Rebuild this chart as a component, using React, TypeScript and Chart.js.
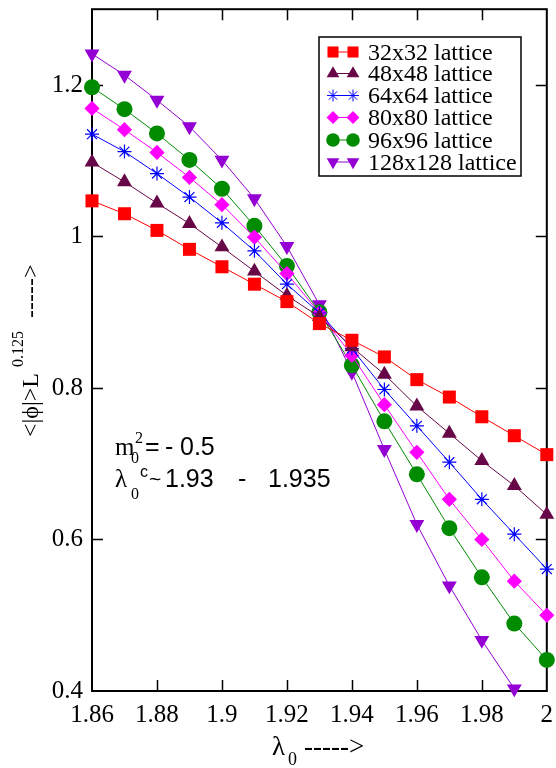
import React, { useEffect, useRef } from 'react';
import { Chart, registerables } from 'chart.js';

Chart.register(...registerables);

// ---- data ----
const lambda0 = [1.86, 1.87, 1.88, 1.89, 1.9, 1.91, 1.92, 1.93, 1.94, 1.95, 1.96, 1.97, 1.98, 1.99, 2.0];

const lat32 = [1.047, 1.030, 1.008, 0.983, 0.960, 0.937, 0.914, 0.885, 0.863, 0.841, 0.811, 0.788, 0.762, 0.737, 0.712];
const lat48 = [1.098, 1.072, 1.044, 1.017, 0.986, 0.954, 0.922, 0.894, 0.854, 0.818, 0.776, 0.740, 0.704, 0.671, 0.633];
const lat64 = [1.135, 1.112, 1.083, 1.052, 1.018, 0.981, 0.937, 0.899, 0.852, 0.798, 0.750, 0.702, 0.653, 0.607, 0.561];
const lat80 = [1.169, 1.141, 1.111, 1.078, 1.042, 0.999, 0.951, 0.899, 0.843, 0.778, 0.715, 0.653, 0.600, 0.545, 0.500];
const lat96 = [1.197, 1.168, 1.136, 1.101, 1.063, 1.014, 0.961, 0.900, 0.830, 0.756, 0.686, 0.615, 0.550, 0.489, 0.441];
const lat128 = [1.241, 1.213, 1.180, 1.145, 1.101, 1.050, 0.987, 0.910, 0.821, 0.719, 0.620, 0.539, 0.467, 0.403];

const seriesLabels = ['32x32 lattice', '48x48 lattice', '64x64 lattice', '80x80 lattice', '96x96 lattice', '128x128 lattice'];
const seriesValues = [lat32, lat48, lat64, lat80, lat96, lat128];
const seriesColors = ['#ff0000', '#670748', '#0000ff', '#ff00ff', '#008b00', '#9400d3'];
const seriesStyles = ['rect', 'triangle', 'star', 'rectRot', 'circle', 'triangle'];
const seriesRotation = [0, 0, 0, 0, 0, 180];
const seriesRadius = [9.2, 8.6, 7, 7.6, 8, 8.6];

const xTickValues = [1.86, 1.88, 1.9, 1.92, 1.94, 1.96, 1.98, 2.0];
const xTickLabels = ['1.86', '1.88', '1.9', '1.92', '1.94', '1.96', '1.98', '2'];
const yTickValues = [0.4, 0.6, 0.8, 1.0, 1.2];
const yTickLabels = ['0.4', '0.6', '0.8', '1', '1.2'];

const SERIF = '"Liberation Serif", "Times New Roman", serif';
const SANS = '"Liberation Sans", Arial, sans-serif';

type Part = { t: string; font: string; x: number; y: number };

function drawMarker(ctx: CanvasRenderingContext2D, style: string, x: number, y: number, r: number, color: string, rot: number) {
  ctx.save();
  ctx.fillStyle = color;
  ctx.strokeStyle = color;
  ctx.lineWidth = 1;
  ctx.beginPath();
  if (style === 'rect') {
    const s = r * Math.SQRT1_2;
    ctx.rect(x - s, y - s, 2 * s, 2 * s);
    ctx.fill();
  } else if (style === 'triangle') {
    let a = (rot * Math.PI) / 180;
    ctx.moveTo(x + Math.sin(a) * r, y - Math.cos(a) * r);
    a += (2 * Math.PI) / 3;
    ctx.lineTo(x + Math.sin(a) * r, y - Math.cos(a) * r);
    a += (2 * Math.PI) / 3;
    ctx.lineTo(x + Math.sin(a) * r, y - Math.cos(a) * r);
    ctx.closePath();
    ctx.fill();
  } else if (style === 'rectRot') {
    ctx.moveTo(x, y - r);
    ctx.lineTo(x + r, y);
    ctx.lineTo(x, y + r);
    ctx.lineTo(x - r, y);
    ctx.closePath();
    ctx.fill();
  } else if (style === 'circle') {
    ctx.arc(x, y, r, 0, Math.PI * 2);
    ctx.fill();
  } else if (style === 'star') {
    const d = r * Math.SQRT1_2;
    ctx.moveTo(x - r, y); ctx.lineTo(x + r, y);
    ctx.moveTo(x, y - r); ctx.lineTo(x, y + r);
    ctx.moveTo(x - d, y - d); ctx.lineTo(x + d, y + d);
    ctx.moveTo(x - d, y + d); ctx.lineTo(x + d, y - d);
    ctx.stroke();
  }
  ctx.restore();
}

function drawParts(ctx: CanvasRenderingContext2D, parts: Part[]) {
  ctx.save();
  ctx.fillStyle = '#000';
  ctx.textBaseline = 'alphabetic';
  ctx.textAlign = 'left';
  for (const p of parts) {
    ctx.font = p.font;
    ctx.fillText(p.t, p.x, p.y);
  }
  ctx.restore();
}

const framePlugin = {
  id: 'frame',
  beforeDatasetsDraw(chart: any) {
    const ctx: CanvasRenderingContext2D = chart.ctx;
    const { left, right, top, bottom } = chart.chartArea;
    const xs = chart.scales.x;
    const ys = chart.scales.y;
    ctx.save();
    ctx.strokeStyle = '#000';
    ctx.lineWidth = 2;
    ctx.strokeRect(left, top, right - left, bottom - top);
    ctx.lineWidth = 1.5;
    ctx.beginPath();
    for (const v of xTickValues) {
      const px = Math.round(xs.getPixelForValue(v)) + 0.5;
      if (px <= left + 2 || px >= right - 2) continue;
      ctx.moveTo(px, bottom); ctx.lineTo(px, bottom - 11);
      ctx.moveTo(px, top); ctx.lineTo(px, top + 11);
    }
    for (const v of yTickValues) {
      const py = Math.round(ys.getPixelForValue(v)) + 0.5;
      if (py <= top + 2 || py >= bottom - 2) continue;
      ctx.moveTo(left, py); ctx.lineTo(left + 11, py);
      ctx.moveTo(right, py); ctx.lineTo(right - 11, py);
    }
    ctx.stroke();
    ctx.restore();
  },
  afterDraw(chart: any) {
    const ctx: CanvasRenderingContext2D = chart.ctx;
    // legend
    ctx.save();
    ctx.fillStyle = '#fff';
    ctx.fillRect(319, 37, 202, 139);
    ctx.strokeStyle = '#000';
    ctx.lineWidth = 1.5;
    ctx.strokeRect(319, 37, 202, 139);
    const rowY = [52, 73.5, 95.5, 117.5, 140, 162];
    for (let i = 0; i < seriesLabels.length; i++) {
      const y = rowY[i];
      ctx.strokeStyle = seriesColors[i];
      ctx.lineWidth = 1;
      ctx.beginPath();
      ctx.moveTo(333, y); ctx.lineTo(353, y);
      ctx.stroke();
      const r = seriesRadius[i] * 0.85;
      drawMarker(ctx, seriesStyles[i], 333, y, r, seriesColors[i], seriesRotation[i]);
      drawMarker(ctx, seriesStyles[i], 353, y, r, seriesColors[i], seriesRotation[i]);
      ctx.fillStyle = '#000';
      ctx.font = `24px ${SERIF}`;
      ctx.textBaseline = 'alphabetic';
      ctx.fillText(seriesLabels[i], 368, y + 7.5);
    }
    ctx.restore();

    // annotations
    drawParts(ctx, [
      { t: 'm', font: `25px ${SERIF}`, x: 115, y: 455 },
      { t: '0', font: `16px ${SERIF}`, x: 131, y: 463 },
      { t: '2', font: `16px ${SERIF}`, x: 135, y: 443 },
      { t: '=', font: `25px ${SANS}`, x: 145, y: 455 },
      { t: '-', font: `25px ${SANS}`, x: 165, y: 455 },
      { t: '0.5', font: `25px ${SANS}`, x: 180, y: 455 },
    ]);
    drawParts(ctx, [
      { t: 'λ', font: `25px ${SERIF}`, x: 115, y: 487 },
      { t: '0', font: `16px ${SERIF}`, x: 131, y: 499 },
      { t: 'c', font: `16px ${SANS}`, x: 140, y: 477 },
      { t: '~', font: `21px ${SANS}`, x: 149, y: 486 },
      { t: '1.93', font: `25px ${SANS}`, x: 165, y: 487 },
      { t: '-', font: `25px ${SANS}`, x: 238, y: 487 },
      { t: '1.935', font: `25px ${SANS}`, x: 268, y: 487 },
    ]);

    // x axis title
    drawParts(ctx, [
      { t: 'λ', font: `27px ${SERIF}`, x: 272, y: 755 },
      { t: '0', font: `18px ${SERIF}`, x: 288, y: 765 },
      { t: '----->', font: `27px ${SERIF}`, x: 304, y: 755 },
    ]);

    // y axis title (rotated)
    ctx.save();
    ctx.translate(38, 437);
    ctx.rotate(-Math.PI / 2);
    drawParts(ctx, [
      { t: '<|ϕ|>L', font: `24px ${SERIF}`, x: 0, y: 0 },
      { t: '0.125', font: `16px ${SERIF}`, x: 70, y: -15 },
      { t: '----->', font: `24px ${SERIF}`, x: 119, y: 0 },
    ]);
    ctx.restore();
  },
};

export default function App() {
  const ref = useRef<HTMLCanvasElement>(null);
  useEffect(() => {
    const datasets = seriesValues.map((vals, i) => ({
      label: seriesLabels[i],
      data: vals.map((v, j) => ({ x: lambda0[j], y: v })),
      borderColor: seriesColors[i],
      backgroundColor: seriesColors[i],
      borderWidth: 1,
      pointStyle: seriesStyles[i] as any,
      pointRotation: seriesRotation[i],
      pointRadius: seriesRadius[i],
      pointBorderWidth: i === 2 ? 1.2 : 0,
      pointBorderColor: seriesColors[i],
      pointBackgroundColor: seriesColors[i],
      tension: 0,
      clip: false as any,
    }));
    const chart = new Chart(ref.current as HTMLCanvasElement, {
      type: 'line',
      data: { datasets },
      options: {
        responsive: false,
        animation: false,
        layout: { padding: { left: 0, right: 9, top: 8, bottom: 0 } },
        plugins: { legend: { display: false }, tooltip: { enabled: false } },
        scales: {
          x: {
            type: 'linear',
            min: 1.86,
            max: 2.0,
            grid: { display: false, drawTicks: false },
            border: { display: false },
            afterFit: (s: any) => { s.height = 77; s.paddingLeft = 0; s.paddingRight = 0; },
            afterBuildTicks: (s: any) => { s.ticks = xTickValues.map((v) => ({ value: v })); },
            ticks: {
              color: '#000',
              font: { family: SERIF, size: 25 },
              padding: 9,
              maxRotation: 0,
              autoSkip: false,
              callback: (_v: any, idx: number) => xTickLabels[idx],
            },
          },
          y: {
            type: 'linear',
            min: 0.4,
            max: 1.3,
            grid: { display: false, drawTicks: false },
            border: { display: false },
            afterFit: (s: any) => { s.width = 92; s.paddingTop = 0; s.paddingBottom = 0; },
            afterBuildTicks: (s: any) => { s.ticks = yTickValues.map((v) => ({ value: v })); },
            ticks: {
              color: '#000',
              font: { family: SERIF, size: 25 },
              padding: 9,
              autoSkip: false,
              callback: (_v: any, idx: number) => yTickLabels[idx],
            },
          },
        },
      },
      plugins: [framePlugin],
    });
    return () => chart.destroy();
  }, []);
  return (
    <div style={{ position: 'absolute', left: 0, top: 0, width: 556, height: 768, background: '#fff' }}>
      <canvas ref={ref} width={556} height={768} style={{ display: 'block' }} />
    </div>
  );
}
